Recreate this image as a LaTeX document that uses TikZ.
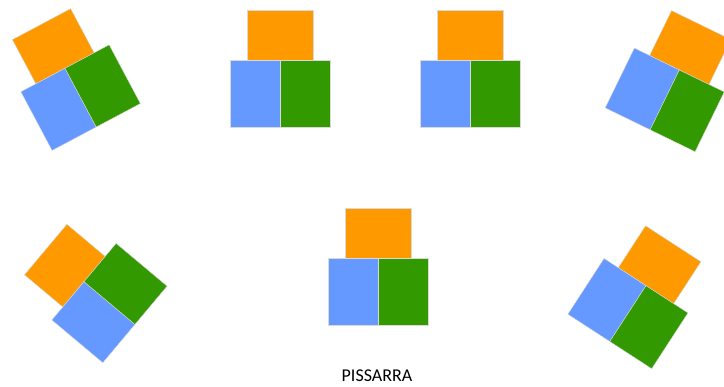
\documentclass[tikz,border=0pt]{standalone}
\usepackage{fontspec}
\setmainfont{Carlito}
\definecolor{orangec}{RGB}{255,153,0}
\definecolor{bluec}{RGB}{102,153,255}
\definecolor{greenc}{RGB}{51,153,0}
\begin{document}
\begin{tikzpicture}[x=1pt,y=1pt,
  blk/.style={draw=gray!30,line width=0.4pt},
  grp/.pic={
    \fill[orangec,blk] (-33,0) rectangle (33,50);
    \fill[bluec,blk] (-50,0) rectangle (0,-66.5);
    \fill[greenc,blk] (0,0) rectangle (50,-66.5);
  }]
\useasboundingbox (0,0) rectangle (724,387);
\begin{scope}
\clip (0,0) rectangle (724,387);
\pic[rotate=28] (g1) at (65,318.7) {grp};
\pic (g2) at (279.7,326.3) {grp};
\pic (g3) at (470,326.3) {grp};
\pic[rotate=-26] (g4) at (679.3,317) {grp};
\pic[rotate=50] (g5) at (84,105.3) {grp};
\pic (g6) at (378.3,128.7) {grp};
\pic[rotate=-33] (g7) at (646,101.3) {grp};
\end{scope}
\node[inner sep=0pt,font=\fontsize{18}{20}\selectfont] (lbl) at (377,11) {PISSARRA};
\end{tikzpicture}
\end{document}
